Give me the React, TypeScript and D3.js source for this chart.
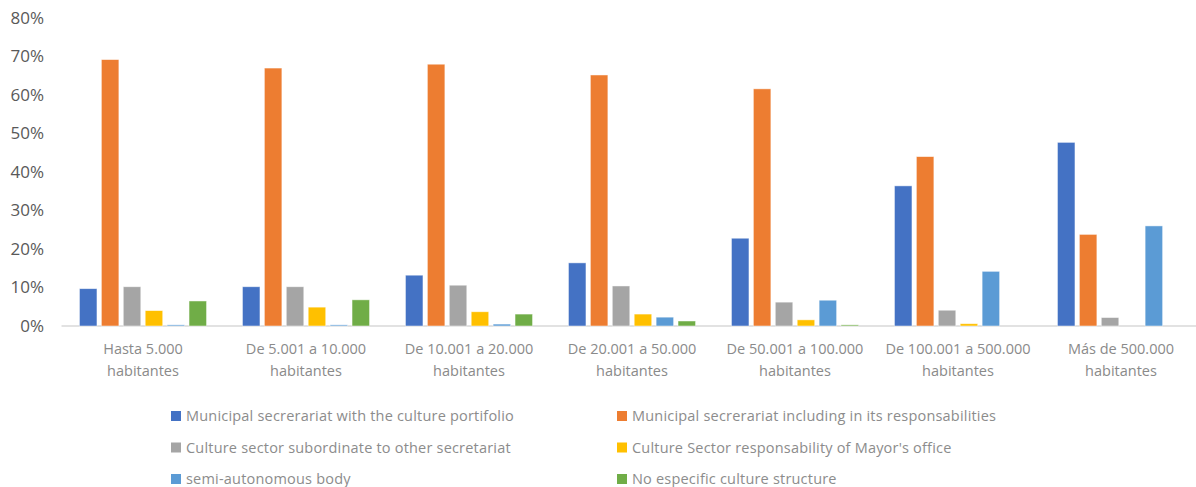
import React from "react";
import * as d3 from "d3";

const categories: string[][] = [
  ["Hasta 5.000", "habitantes"],
  ["De 5.001 a 10.000", "habitantes"],
  ["De 10.001 a 20.000", "habitantes"],
  ["De 20.001 a 50.000", "habitantes"],
  ["De 50.001 a 100.000", "habitantes"],
  ["De 100.001 a 500.000", "habitantes"],
  ["Más de 500.000", "habitantes"],
];

const seriesNames = [
  "Municipal secrerariat with the culture portifolio",
  "Municipal secrerariat including in its responsabilities",
  "Culture sector subordinate to other secretariat",
  "Culture Sector responsability of Mayor's office",
  "semi-autonomous body",
  "No especific culture structure",
];

const seriesColors = ["#4472C4", "#ED7D31", "#A5A5A5", "#FFC000", "#5B9BD5", "#70AD47"];

const municipalCulture = [9.7, 10.2, 13.2, 16.4, 22.8, 36.4, 47.7];
const municipalIncluding = [69.2, 67.0, 68.0, 65.2, 61.6, 44.0, 23.8];
const subordinate = [10.2, 10.2, 10.6, 10.4, 6.2, 4.1, 2.2];
const mayorsOffice = [4.0, 4.9, 3.7, 3.1, 1.6, 0.6, 0];
const semiAutonomous = [0.3, 0.3, 0.5, 2.3, 6.7, 14.2, 26.0];
const noStructure = [6.5, 6.8, 3.1, 1.3, 0.3, 0, 0];

const seriesValues = [municipalCulture, municipalIncluding, subordinate, mayorsOffice, semiAutonomous, noStructure];

const yTicks = [0, 10, 20, 30, 40, 50, 60, 70, 80];

const W = 1196;
const H = 487;
const FONT = "'Open Sans', sans-serif";

export default function App() {
  const plotLeft = 61.5;
  const step = 163;
  const plotRight = plotLeft + step * categories.length;
  const y = d3.scaleLinear().domain([0, 80]).range([326, 18]);
  const x0 = d3
    .scaleBand<number>()
    .domain(categories.map((_, i) => i))
    .range([plotLeft, plotRight])
    .paddingInner(0.22)
    .paddingOuter(0.11);
  const x1 = d3
    .scaleBand<number>()
    .domain(seriesNames.map((_, i) => i))
    .range([0, x0.bandwidth()])
    .paddingInner(0.2);

  return (
    <svg
      width={W}
      height={H}
      style={{ position: "absolute", left: 0, top: 0, background: "#fff" }}
      fontFamily={FONT}
    >
      {yTicks.map((t) => (
        <text
          key={t}
          x={44}
          y={y(t)}
          dy="0.35em"
          textAnchor="end"
          fontSize={17}
          fill="#595959"
        >
          {t}%
        </text>
      ))}
      <line x1={plotLeft} x2={W} y1={y(0)} y2={y(0)} stroke="#d9d9d9" strokeWidth={1.5} />
      {seriesValues.map((vals, s) =>
        vals.map((v, c) =>
          v > 0 ? (
            <rect
              key={`${s}-${c}`}
              x={(x0(c) as number) + (x1(s) as number)}
              y={y(v)}
              width={x1.bandwidth()}
              height={y(0) - y(v)}
              fill={seriesColors[s]}
              stroke="#fff"
              strokeOpacity={0.6}
              strokeWidth={0.8}
            />
          ) : null
        )
      )}
      {categories.map((lines, c) => (
        <text
          key={c}
          x={(x0(c) as number) + x0.bandwidth() / 2}
          textAnchor="middle"
          fontSize={14.5}
          fill="#8a8a8a"
        >
          {lines.map((l, i) => (
            <tspan key={i} x={(x0(c) as number) + x0.bandwidth() / 2} y={354 + i * 22}>
              {l}
            </tspan>
          ))}
        </text>
      ))}
      {seriesNames.map((name, i) => {
        const col = i % 2;
        const row = Math.floor(i / 2);
        const mx = col === 0 ? 171 : 617;
        const my = 416 + row * 31.5;
        return (
          <g key={name}>
            <rect x={mx} y={my - 5} width={10} height={10} fill={seriesColors[i]} />
            <text
              x={mx + 15}
              y={my}
              dy="0.35em"
              fontSize={14.5}
              letterSpacing={0.2}
              fill="#8c8c8c"
            >
              {name}
            </text>
          </g>
        );
      })}
    </svg>
  );
}
